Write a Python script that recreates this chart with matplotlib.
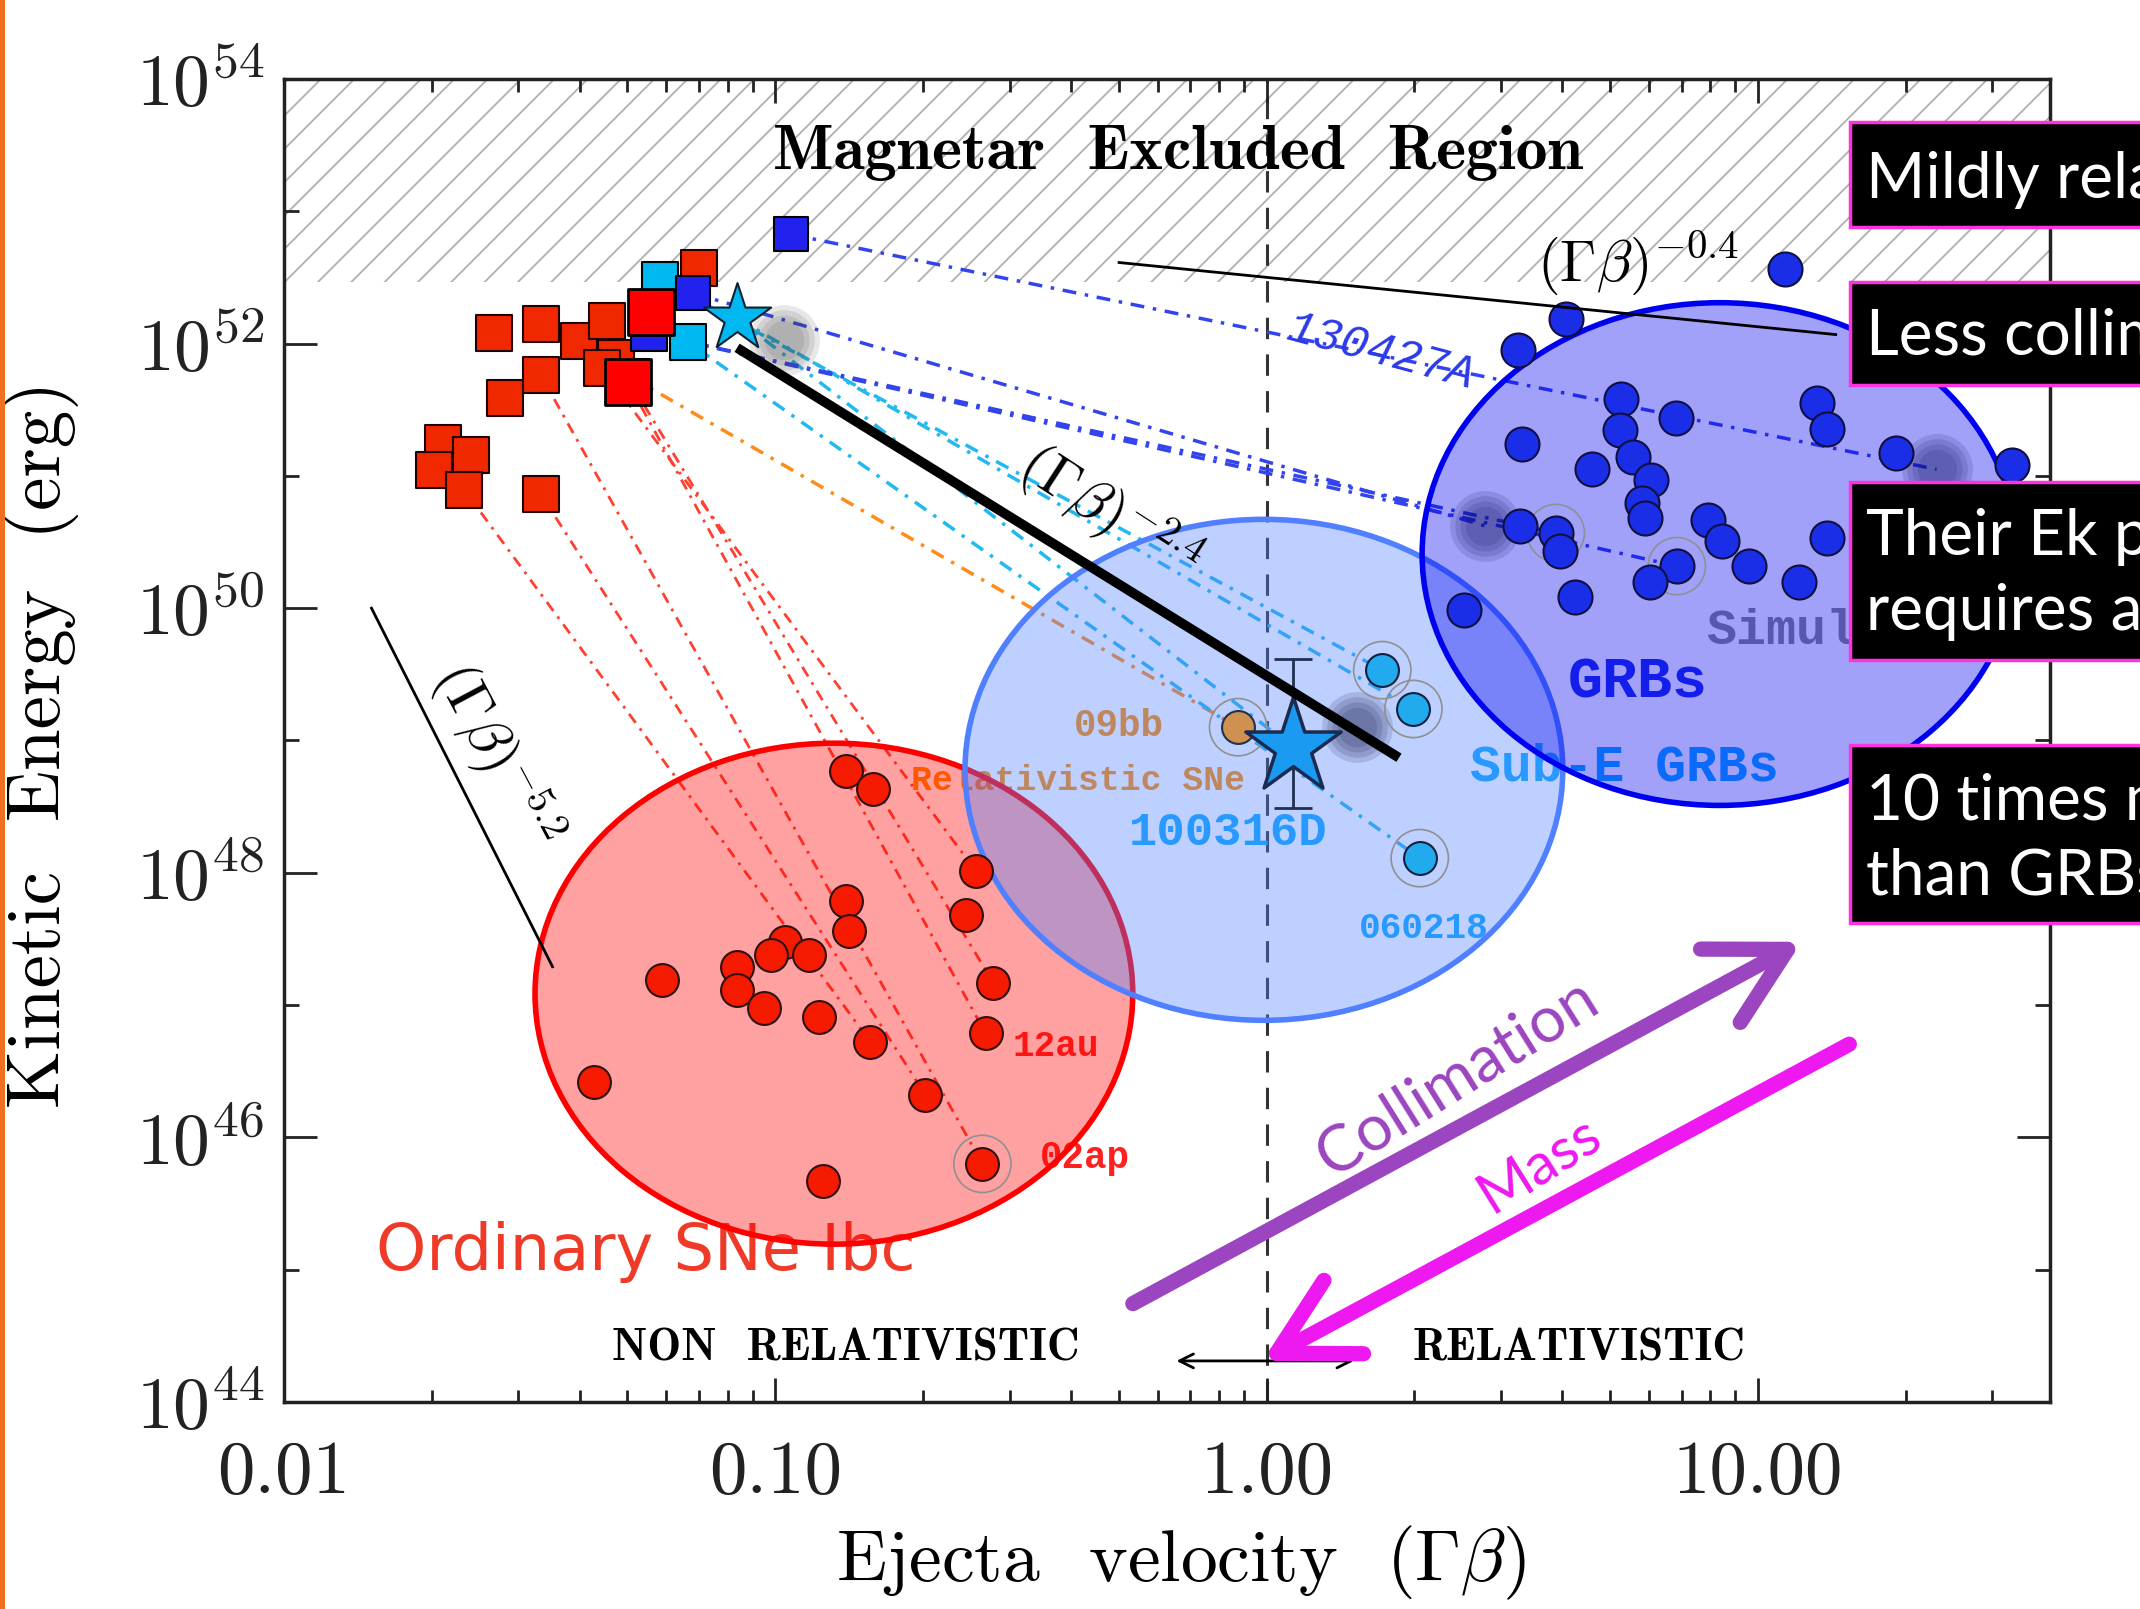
import numpy as np
import matplotlib.pyplot as plt
from matplotlib.patches import Ellipse, Rectangle
from matplotlib.ticker import FixedLocator, NullFormatter

plt.rcParams['mathtext.fontset'] = 'cm'
plt.rcParams['font.family'] = ['cmr10', 'DejaVu Sans']
plt.rcParams['axes.formatter.use_mathtext'] = True
plt.rcParams['hatch.color'] = '#b0b0b0'
plt.rcParams['hatch.linewidth'] = 1.3

# ---- data (ejecta velocity Gamma*beta, kinetic energy in erg) ----
# fast ejecta of ordinary SNe Ibc (squares)
sn_sq_x = [0.0268, 0.0333, 0.0398, 0.0473, 0.0282, 0.0333, 0.0333, 0.0211, 0.0240, 0.0202, 0.0233, 0.0455, 0.0698, 0.0444]
sn_sq_E = [1.2e52, 1.4e52, 1.05e52, 7.8e51, 3.85e51, 5.8e51, 7.3e50, 1.76e51, 1.45e51, 1.1e51, 7.8e50, 1.48e52, 3.7e52, 6.5e51]
big_sq_x = [0.0558, 0.0501]
big_sq_E = [1.72e52, 5.1e51]
orange_sq = (0.0508, 5.6e51)
cyan_sq_x = [0.0583, 0.0664]
cyan_sq_E = [3.04e52, 1.03e52]
blue_sq_x = [0.0554, 0.0681, 0.1074]
blue_sq_E = [1.2e52, 2.4e52, 6.7e52]

# ordinary SNe Ibc (circles)
sn_x = [0.1395, 0.158, 0.256, 0.1395, 0.1413, 0.245, 0.1045, 0.098, 0.117, 0.0588, 0.0836,
        0.0836, 0.278, 0.095, 0.123, 0.268, 0.156, 0.0428, 0.202, 0.264, 0.125]
sn_E = [5.9e48, 4.3e48, 1.03e48, 6.1e47, 3.6e47, 4.8e47, 3.0e47, 2.4e47, 2.4e47, 1.55e47, 1.95e47,
        1.3e47, 1.47e47, 9.5e46, 8.1e46, 6.1e46, 5.3e46, 2.6e46, 2.1e46, 6.3e45, 4.7e45]

# sub-energetic GRBs and relativistic SNe
subE_x = [1.72, 1.99, 2.05]
subE_E = [3.4e49, 1.73e49, 1.29e48]
sn09bb = (0.875, 1.26e49)
star_small = (0.0836, 1.55e52)
star_big = (1.13, 8.9e48)
star_big_err = (3.1e48, 4.1e49)

# GRBs
grb_x = [11.35, 4.07, 3.25, 5.26, 6.81, 13.2, 13.8, 3.31, 5.24, 5.57, 6.06, 4.59, 19.1, 32.9,
         3.28, 3.88, 3.95, 5.81, 5.89, 7.91, 8.45, 9.59, 6.84, 6.03, 4.24, 12.1, 13.8, 2.52]
grb_E = [3.67e52, 1.54e52, 8.96e51, 3.82e51, 2.74e51, 3.56e51, 2.26e51, 1.75e51, 2.22e51, 1.39e51,
         9.3e50, 1.13e51, 1.49e51, 1.21e51, 4.19e50, 3.7e50, 2.7e50, 6.2e50, 4.8e50, 4.6e50, 3.2e50,
         2.08e50, 2.08e50, 1.58e50, 1.21e50, 1.58e50, 3.39e50, 9.7e49]
blob_x = [2.78, 23.1]
blob_E = [4.2e50, 1.12e51]
grey_blob = (0.104, 1.07e52)
navy_blob = (1.53, 1.26e49)

# connections (index pairs)
red_links = [(10, 16), (6, 18), (5, 19), (13, 2), (3, 12)]
big_red_links = [(1, 15)]
cyan_links = [(0, 0), (1, 2)]

# power-law guide lines
pl52 = ([0.01507, 0.0352], [1.0e50, 1.95e47])
pl24 = ([0.0836, 1.86], [9.3e51, 7.4e48])
pl04 = ([0.501, 14.4], [4.1e52, 1.17e52])
excluded_floor = 2.9e52
xlim = (0.01, 39.3)
ylim = (1e44, 1e54)

fig = plt.figure(figsize=(21.4, 16.09), dpi=100)
ax = fig.add_axes([0.1327, 0.1287, 0.8252, 0.8222])
ax.set_xscale('log')
ax.set_yscale('log')
ax.set_xlim(*xlim)
ax.set_ylim(*ylim)

# magnetar excluded region
ax.fill_between(xlim, excluded_floor, ylim[1], facecolor='none', edgecolor='#b0b0b0',
                hatch='/', lw=0, zorder=0)
ax.axvline(1.0, color='#333333', lw=2.2, ls=(0, (7, 5)), zorder=1)

dd = (0, (4, 2.5, 1, 2.5))
for i, j in red_links:
    ax.plot([sn_sq_x[i], sn_x[j]], [sn_sq_E[i], sn_E[j]], color='#ff4030', lw=2, ls=dd, zorder=2)
for i, j in big_red_links:
    ax.plot([big_sq_x[i], sn_x[j]], [big_sq_E[i], sn_E[j]], color='#ff4030', lw=2, ls=dd, zorder=2)
ax.plot([orange_sq[0], sn09bb[0]], [orange_sq[1], sn09bb[1]], color='#ff8c1a', lw=2.5, ls=dd, zorder=2)
for i, j in cyan_links:
    ax.plot([cyan_sq_x[i], subE_x[j]], [cyan_sq_E[i], subE_E[j]], color='#22b8f0', lw=2.5, ls=dd, zorder=2)
ax.plot([star_small[0], subE_x[1]], [star_small[1], subE_E[1]], color='#22b8f0', lw=2.5, ls=dd, zorder=2)
ax.plot([star_small[0], star_big[0]], [star_small[1], star_big[1]], color='#22b8f0', lw=2.5, ls=dd, zorder=2)
ax.plot([blue_sq_x[2], blob_x[1]], [blue_sq_E[2], blob_E[1]], color='#3344ee', lw=2.5, ls=dd, zorder=2)
ax.plot([blue_sq_x[1], blob_x[0]], [blue_sq_E[1], blob_E[0]], color='#3344ee', lw=2.5, ls=dd, zorder=2)
ax.plot([blue_sq_x[0], grb_x[15]], [blue_sq_E[0], grb_E[15]], color='#3344ee', lw=2.5, ls=dd, zorder=2)
ax.plot([blue_sq_x[0], grb_x[22]], [blue_sq_E[0], grb_E[22]], color='#3344ee', lw=2.5, ls=dd, zorder=2)

# labels that sit under the shaded groups
T = ax.transAxes
mono = dict(family='Liberation Mono', weight='bold', zorder=3)
ax.text(0.4730, 0.5108, '09bb', color='#ff8c00', fontsize=27, ha='center', va='center', transform=T, **mono)
ax.text(0.4498, 0.4696, 'Relativistic SNe', color='#ff8c00', fontsize=25, ha='center', va='center', transform=T, **mono)
ax.text(0.5348, 0.4303, '100316D', color='#10a8ff', fontsize=34, ha='center', va='center', transform=T, **mono)
ax.text(0.6453, 0.3581, '060218', color='#10a8ff', fontsize=26, ha='center', va='center', transform=T, **mono)
ax.text(0.7589, 0.4799, 'Sub-E GRBs', color='#10a8ff', fontsize=37, ha='center', va='center', transform=T, **mono)
ax.text(0.7666, 0.5439, 'GRBs', color='#2030e8', fontsize=42, ha='center', va='center', transform=T, **mono)
ax.text(0.8053, 0.5831, 'Simulated', color='#8a8a8a', fontsize=36, ha='left', va='center', transform=T, **mono)
ax.text(0.4127, 0.2683, '12au', color='#ff2020', fontsize=26, ha='left', va='center', transform=T, **mono)
ax.text(0.4281, 0.1847, '02ap', color='#ff2020', fontsize=27, ha='left', va='center', transform=T, **mono)
ax.text(0.6213, 0.7936, '130427A', color='#2a3ae8', fontsize=33, ha='center', va='center', rotation=-15,
        transform=T, family='Liberation Mono', style='italic', zorder=3)
ax.text(0.2048, 0.1135, 'Ordinary SNe Ibc', color='#f03a28', fontsize=46, ha='center', va='center',
        transform=T, family='DejaVu Sans', zorder=3)

# shaded groups
for (cx, cy, w, h), col in [((0.3114, 0.3086, 0.3385, 0.3787), '#ff0000'),
                            ((0.5549, 0.4778, 0.3385, 0.3787), '#5080ff'),
                            ((0.8130, 0.6409, 0.3370, 0.3800), '#0000f0')]:
    ax.add_patch(Ellipse((cx, cy), w, h, transform=T, facecolor=col, alpha=0.37, lw=0, zorder=4, clip_on=False))
    ax.add_patch(Ellipse((cx, cy), w, h, transform=T, facecolor='none', edgecolor=col, lw=4, zorder=4, clip_on=False))

# soft shadows
for s in [2600, 1900, 1300, 800]:
    ax.scatter(blob_x, blob_E, s=s, color='#101060', alpha=0.14, lw=0, zorder=5)
    ax.scatter([navy_blob[0]], [navy_blob[1]], s=s, color='#101040', alpha=0.14, lw=0, zorder=5)
    ax.scatter([grey_blob[0]], [grey_blob[1]], s=s, color='#404040', alpha=0.12, lw=0, zorder=5)

# halos
ax.scatter(subE_x + [sn09bb[0], sn_x[19], grb_x[15], grb_x[22]],
           subE_E + [sn09bb[1], sn_E[19], grb_E[15], grb_E[22]],
           s=1700, facecolor='none', edgecolor='#909090', lw=1.2, zorder=5)

# points
ax.scatter(sn_x, sn_E, s=560, marker='o', color='#f51a00', edgecolor='#301010', lw=1.5, zorder=6)
ax.scatter(grb_x, grb_E, s=600, marker='o', color='#1a2ee8', edgecolor='#101040', lw=1.5, zorder=6)
ax.scatter(subE_x, subE_E, s=560, marker='o', color='#22aaee', edgecolor='#102040', lw=1.5, zorder=6)
ax.scatter([sn09bb[0]], [sn09bb[1]], s=560, marker='o', color='#d09050', edgecolor='#203050', lw=1.5, zorder=6)
ax.scatter([orange_sq[0]], [orange_sq[1]], s=700, marker='s', color='#f08020', edgecolor='black', lw=1.5, zorder=6)
ax.scatter(sn_sq_x, sn_sq_E, s=650, marker='s', color='#f02800', edgecolor='#200000', lw=1.5, zorder=6)
ax.scatter(blue_sq_x[:1], blue_sq_E[:1], s=650, marker='s', color='#2222ee', edgecolor='black', lw=1.5, zorder=6)
ax.scatter(cyan_sq_x, cyan_sq_E, s=650, marker='s', color='#00b8f0', edgecolor='black', lw=1.5, zorder=6)
ax.scatter(blue_sq_x[1:], blue_sq_E[1:], s=620, marker='s', color='#2222ee', edgecolor='black', lw=1.5, zorder=6)
ax.scatter(big_sq_x, big_sq_E, s=1100, marker='s', color='#ff0000', edgecolor='black', lw=2, zorder=7)
ax.scatter([star_small[0]], [star_small[1]], s=2600, marker='*', color='#00b8f0', edgecolor='#102030', lw=1.5, zorder=8)
ax.errorbar([star_big[0]], [star_big[1]],
            yerr=[[star_big[1] - star_big_err[0]], [star_big_err[1] - star_big[1]]],
            fmt='none', ecolor='#203050', elinewidth=2, capsize=14, capthick=2, zorder=7)
ax.scatter([star_big[0]], [star_big[1]], s=5200, marker='*', color='#1a9af0', edgecolor='#1a2a50', lw=2.5, zorder=8)

# power-law guides
ax.plot(*pl52, color='black', lw=2, zorder=7)
ax.plot(*pl24, color='black', lw=7, zorder=9, solid_capstyle='butt')
ax.plot(*pl04, color='black', lw=2, zorder=7)
ax.text(0.1206, 0.4892, r'$(\Gamma\beta)^{-5.2}$', fontsize=42, rotation=-62, ha='center', va='center', transform=T, zorder=9)
ax.text(0.4675, 0.6718, r'$(\Gamma\beta)^{-2.4}$', fontsize=42, rotation=-33, ha='center', va='center', transform=T, zorder=9)
ax.text(0.7666, 0.8607, r'$(\Gamma\beta)^{-0.4}$', fontsize=42, ha='center', va='center', transform=T, zorder=9)

ax.text(0.5062, 0.9443, 'Magnetar  Excluded  Region', family='cmb10', fontsize=46, ha='center', va='center', transform=T, zorder=9)
ax.text(0.3184, 0.0403, 'NON  RELATIVISTIC', family='cmb10', fontsize=32.5, ha='center', va='center', transform=T, zorder=9)
ax.text(0.7334, 0.0403, 'RELATIVISTIC', family='cmb10', fontsize=32.5, ha='center', va='center', transform=T, zorder=9)
ax.annotate('', xy=(0.5054, 0.031), xytext=(0.6059, 0.031), xycoords=T,
            arrowprops=dict(arrowstyle='<->', lw=2, color='black', mutation_scale=25, shrinkA=0, shrinkB=0), zorder=9)

# collimation / mass arrows
ax.annotate('', xy=(0.8594, 0.3478), xytext=(0.4807, 0.0743), xycoords=T,
            arrowprops=dict(arrowstyle='->,head_length=0.55,head_width=0.3', lw=11, color='#9b45c0',
                            mutation_scale=100, shrinkA=0, shrinkB=0), zorder=10)
ax.annotate('', xy=(0.5541, 0.0310), xytext=(0.8864, 0.2704), xycoords=T,
            arrowprops=dict(arrowstyle='->,head_length=0.55,head_width=0.3', lw=11, color='#ee18f0',
                            mutation_scale=100, shrinkA=0, shrinkB=0), zorder=10)
ax.text(0.6646, 0.2446, 'Collimation', color='#9b45c0', fontsize=46, rotation=32, family='Lato',
        ha='center', va='center', transform=T, zorder=10)
ax.text(0.711, 0.1796, 'Mass', color='#ee18f0', fontsize=42, rotation=32, family='Lato',
        ha='center', va='center', transform=T, zorder=10)

# axes styling
ax.set_xticks([0.01, 0.1, 1, 10])
ax.set_xticklabels(['0.01', '0.10', '1.00', '10.00'])
ax.xaxis.set_minor_locator(FixedLocator([m * 10.0 ** e for e in range(-2, 2) for m in range(2, 10)]))
ax.xaxis.set_minor_formatter(NullFormatter())
yt = [10.0 ** e for e in range(44, 55, 2)]
ax.set_yticks(yt)
ax.set_yticklabels([r'$10^{%d}$' % e for e in range(44, 55, 2)])
ax.yaxis.set_minor_locator(FixedLocator([10.0 ** e for e in range(45, 54, 2)]))
ax.yaxis.set_minor_formatter(NullFormatter())
ax.tick_params(which='both', direction='in', top=True, right=True, width=2, colors='#222222')
ax.tick_params(axis='x', which='major', length=17, pad=28, labelsize=54)
ax.tick_params(axis='x', which='minor', length=9)
ax.tick_params(axis='y', which='major', length=24, pad=14, labelsize=53)
ax.tick_params(axis='y', which='minor', length=11)
for sp in ax.spines.values():
    sp.set_linewidth(2.5)
    sp.set_color('#222222')

ax.set_xlabel(r'Ejecta  velocity  ($\Gamma\beta$)', fontsize=53)
ax.set_ylabel('Kinetic  Energy  (erg)', fontsize=54)
ax.xaxis.set_label_coords(0.5077, -0.092)
ax.yaxis.set_label_coords(-0.116, 0.497)

# slide call-outs
boxes = [(0.8591, 0.0653, [(0.8768, 'Mildly relativistic')]),
         (0.7607, 0.0642, [(0.7794, 'Less collimated')]),
         (0.5898, 0.1108, [(0.6551, 'Their Ek profile'), (0.6085, 'requires a central engine')]),
         (0.4263, 0.1106, [(0.4904, '10 times more common'), (0.4438, 'than GRBs')])]
for y0, h, lines in boxes:
    fig.add_artist(Rectangle((1850 / 2140, y0), 0.3, h, transform=fig.transFigure, facecolor='black',
                             edgecolor='#ff33dd', lw=2.5, clip_on=False, zorder=20))
    for yb, s in lines:
        fig.text(1866 / 2140, yb, s, color='white', fontsize=46, family='Lato', va='baseline', zorder=21)

fig.add_artist(Rectangle((0, 0), 5 / 2140, 1, transform=fig.transFigure, facecolor='#f07020', lw=0, zorder=20))

fig.savefig('out.png', dpi=100)
